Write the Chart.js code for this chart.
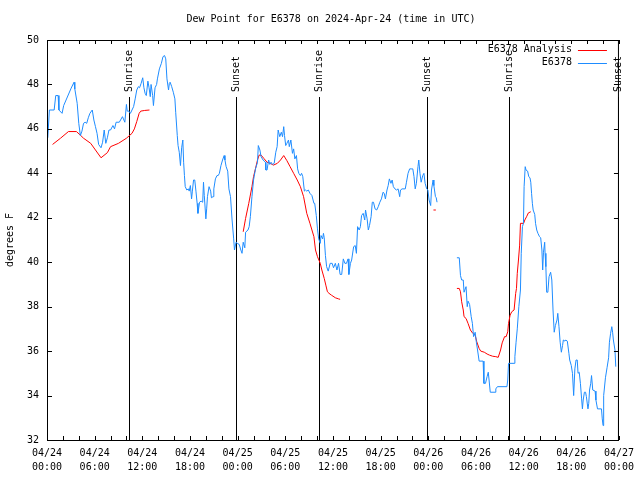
<!DOCTYPE html>
<html><head><meta charset="utf-8">
<script src="https://cdn.jsdelivr.net/npm/chart.js@4/dist/chart.umd.min.js"></script>
<style>html,body{margin:0;padding:0;background:#fff;}canvas{display:block;}</style>
</head><body>
<canvas id="c" width="640" height="480"></canvas>
<script>
// hours since 2024-04-24 00:00 UTC
const blueHours = [0.1,0.3,0.9,1.1,1.4,1.5,1.9,2.1,2.4,3.0,3.4,3.5,3.8,4.0,4.2,4.4,4.6,4.8,5.0,5.2,5.4,5.7,5.9,6.1,6.3,6.5,6.8,7.0,7.2,7.4,7.6,7.8,8.0,8.3,8.5,8.7,9.1,9.5,9.8,10.0,10.1,10.3,10.5,10.7,10.9,11.1,11.3,11.5,11.65,11.85,12.05,12.2,12.35,12.5,12.7,12.85,13.0,13.1,13.3,13.4,13.6,13.8,13.9,14.15,14.4,14.6,14.8,14.95,15.1,15.3,15.4,15.5,15.7,15.9,16.1,16.2,16.4,16.5,16.65,16.8,16.95,17.1,17.2,17.3,17.4,17.6,17.8,17.9,18.05,18.2,18.3,18.45,18.6,18.75,18.9,19.0,19.2,19.4,19.6,19.7,19.8,20.0,20.1,20.2,20.4,20.6,20.7,20.9,21.0,21.2,21.4,21.55,21.7,21.9,22.1,22.3,22.4,22.55,22.75,22.9,23.1,23.3,23.5,23.6,23.8,23.95,24.2,24.4,24.55,24.7,24.9,25.0,25.3,25.45,25.6,25.8,26.0,26.25,26.5,26.6,26.8,26.95,27.2,27.5,27.55,27.7,27.9,28.05,28.2,28.4,28.6,28.8,28.97,29.1,29.3,29.5,29.65,29.8,29.9,30.05,30.2,30.4,30.5,30.7,30.9,31.05,31.2,31.4,31.55,31.7,31.9,32.05,32.2,32.4,32.55,32.7,32.9,33.1,33.35,33.6,33.7,33.9,34.05,34.2,34.4,34.5,34.7,34.8,34.9,35.05,35.2,35.4,35.65,35.9,36.07,36.3,36.5,36.7,36.9,37.1,37.3,37.5,37.7,37.9,38.0,38.2,38.35,38.6,38.8,38.95,39.1,39.3,39.45,39.6,39.8,40.0,40.1,40.3,40.45,40.6,40.8,40.95,41.1,41.3,41.5,41.7,41.9,42.1,42.3,42.45,42.6,42.8,42.95,43.1,43.3,43.45,43.6,43.8,44.0,44.2,44.4,44.5,44.7,44.95,45.1,45.25,45.45,45.65,45.85,46.05,46.2,46.35,46.5,46.7,46.8,46.95,47.1,47.3,47.45,47.6,47.8,47.95,48.1,48.3,48.4,48.6,48.7,48.9,49.0,49.1,50.3,51.6,51.9,52.05,52.2,52.4,52.5,52.75,52.9,53.0,53.2,53.4,53.55,53.7,53.9,54.05,54.2,54.4,54.9,55.0,55.2,55.4,55.55,55.65,55.8,56.4,56.5,56.7,57.9,58.0,58.1,58.8,58.9,59.05,59.2,59.4,59.6,59.7,59.85,59.98,60.06,60.2,60.3,60.5,60.65,60.8,60.9,61.0,61.1,61.2,61.4,61.5,61.65,61.8,62.0,62.15,62.3,62.4,62.5,62.65,62.7,62.8,62.9,63.05,63.2,63.4,63.55,63.7,63.85,64.0,64.2,64.3,64.45,64.6,64.75,64.9,65.0,65.2,65.3,65.5,65.7,65.8,66.0,66.15,66.3,66.45,66.6,66.75,66.85,67.0,67.15,67.3,67.4,67.5,67.65,67.8,67.9,68.1,68.2,68.3,68.45,68.55,68.7,69.0,69.1,69.3,69.8,69.9,70.0,70.05,70.1,70.3,70.5,70.7,70.8,70.95,71.1,71.2,71.3,71.5,71.6];
const blueDew = [45.6,46.85,46.85,47.5,47.5,46.85,46.7,47.05,47.3,47.8,48.1,47.8,47.15,46.25,45.7,45.9,46.25,46.3,46.25,46.5,46.7,46.85,46.4,46.1,45.8,45.3,45.15,45.4,45.95,45.35,45.6,45.95,45.95,46.15,46.0,46.3,46.3,46.55,46.3,47.1,46.8,46.8,46.7,46.85,47.0,47.35,47.75,47.9,47.85,48.05,48.3,47.85,47.6,47.5,48.15,47.85,47.45,48.0,47.5,47.05,47.85,48.0,48.25,48.7,48.95,49.25,49.3,49.15,48.25,47.75,48.05,48.1,47.9,47.65,47.35,46.75,45.7,45.25,44.95,44.35,45.15,45.5,44.5,43.9,43.4,43.25,43.3,43.2,43.45,42.85,43.2,43.7,43.7,43.2,42.65,42.2,42.7,42.75,42.7,43.6,43.0,41.95,42.4,42.95,43.4,43.2,42.9,42.95,43.3,43.75,43.9,43.9,44.0,44.35,44.6,44.8,44.6,44.3,44.1,43.3,42.95,41.9,41.05,40.55,40.9,40.85,40.8,40.55,40.4,40.9,40.65,41.35,41.45,41.6,42.05,42.95,43.7,44.2,44.5,45.25,45.05,44.75,44.6,44.5,44.15,44.15,44.6,44.4,44.5,44.4,44.45,44.95,45.2,45.95,45.65,45.85,45.65,46.1,45.7,45.25,45.35,45.5,45.2,45.5,44.9,45.1,44.65,44.8,44.2,44.0,43.9,44.0,43.85,43.2,43.25,43.2,43.25,43.1,43.0,42.65,42.65,42.1,41.5,41.05,40.85,41.2,41.05,41.3,41.1,40.3,39.8,39.6,39.95,39.95,39.75,39.95,39.65,39.95,39.45,39.45,40.15,39.95,39.95,40.15,39.45,39.95,40.1,40.7,40.75,40.4,41.6,41.45,41.6,42.1,42.2,41.9,42.35,41.95,41.45,41.65,42.05,42.7,42.7,42.4,42.35,42.5,42.7,42.85,43.15,43.1,42.85,43.25,43.45,43.75,43.55,43.7,43.4,43.3,43.25,43.3,42.95,43.25,43.3,43.3,43.3,43.6,44.0,44.2,44.2,44.2,43.85,43.3,43.55,44.3,44.6,44.0,43.6,43.9,44.0,43.55,43.3,43.25,42.8,42.55,43.25,43.7,43.45,42.95,42.9,42.7,null,40.2,40.2,39.4,39.2,39.2,38.65,38.9,38.0,38.25,38.1,37.55,37.25,36.65,36.85,36.4,36.05,35.55,35.55,34.55,34.55,34.85,35.05,34.7,34.15,34.15,34.3,34.4,34.4,34.7,35.45,35.45,35.75,36.4,37.0,38.0,38.75,40.4,41.6,41.75,43.4,44.3,44.15,44.1,43.85,43.8,43.6,43.1,42.65,42.35,42.15,41.75,41.45,41.3,41.15,41.1,40.55,39.65,40.45,40.9,40.4,39.8,38.65,38.65,39.35,39.55,39.2,37.85,36.85,37.15,37.4,37.7,37.1,36.4,35.95,36.25,36.5,36.45,36.5,36.45,35.9,35.6,35.35,35.0,34.0,35.2,35.6,35.6,35.0,35.05,34.55,33.85,33.4,33.8,34.15,34.15,33.95,33.4,33.65,34.25,34.55,34.9,34.25,34.2,33.8,33.4,33.4,32.95,32.65,33.4,34.0,34.8,35.25,35.7,36.4,36.8,37.1,36.85,36.5,36.05,35.3];

const redHours = [0.7,1.7,2.7,3.7,4.2,4.6,5.5,6.1,6.8,7.6,8.0,9.0,10.0,10.7,11.0,11.3,11.6,11.8,12.3,12.9,18.0,24.7,25.0,25.4,25.8,26.0,26.25,26.5,26.7,26.95,27.3,27.7,28.1,28.5,29.0,29.4,29.8,30.2,30.6,31.05,31.5,31.9,32.3,32.7,33.1,33.6,33.8,34.05,34.4,34.6,34.9,35.1,35.3,35.5,35.8,36.3,36.7,36.9,42.0,48.65,48.95,50.3,51.6,51.9,52.05,52.2,52.4,52.5,52.75,53.0,53.3,53.6,53.9,54.1,54.4,54.6,55.05,55.4,55.7,56.1,56.5,56.8,57.1,57.3,57.6,57.8,58.0,58.1,58.3,58.5,58.8,59.0,59.1,59.2,59.35,59.5,59.6,60.0,60.15,60.4,60.6,60.9];
const redDew = [45.3,45.58,45.88,45.88,45.72,45.58,45.35,45.05,44.7,44.93,45.2,45.35,45.58,45.8,46.0,46.33,46.7,46.8,46.83,46.85,null,41.37,41.97,42.65,43.4,43.85,44.22,44.6,44.82,44.82,44.67,44.5,44.45,44.37,44.45,44.6,44.8,44.57,44.3,44.0,43.7,43.4,42.95,42.2,41.75,41.15,40.55,40.25,39.95,39.65,39.27,38.97,38.67,38.6,38.52,38.4,38.35,38.33,null,42.35,42.35,null,38.82,38.82,38.67,38.22,37.85,37.55,37.47,37.25,36.95,36.8,36.72,36.42,36.12,36.0,35.95,35.87,35.82,35.77,35.75,35.72,36.05,36.37,36.65,36.65,36.87,37.25,37.62,37.77,37.85,38.6,38.82,39.5,40.1,40.77,41.75,41.75,41.9,42.07,42.22,42.27];

const sunHours = [10.27, 23.75, 34.26, 47.78, 58.2, 71.88];
const sunLabels = ['Sunrise','Sunset','Sunrise','Sunset','Sunrise','Sunset'];
const dayLabels = ['04/24','04/24','04/24','04/24','04/25','04/25','04/25','04/25','04/26','04/26','04/26','04/26','04/27'];
const timeLabels = ['00:00','06:00','12:00','18:00','00:00','06:00','12:00','18:00','00:00','06:00','12:00','18:00','00:00'];
const seriesNames = ['E6378 Analysis','E6378'];
const seriesColors = ['#ff0000','#1e8cff'];
const titleText = 'Dew Point for E6378 on 2024-Apr-24 (time in UTC)';

const FONT = "'DejaVu Sans Mono','Liberation Mono',monospace";
const toPts = (hs, vs) => hs.map((h, i) => ({x: h, y: vs[i]}));

const decor = {
  id: 'decor',
  beforeDatasetsDraw(chart) {
    const {ctx, chartArea: a, scales: {x}} = chart;
    ctx.save();
    ctx.strokeStyle = '#000'; ctx.lineWidth = 1; ctx.fillStyle = '#000';
    ctx.font = '10px ' + FONT;
    sunHours.forEach((h, i) => {
      const px = Math.round(x.getPixelForValue(h)) + 0.5;
      ctx.beginPath(); ctx.moveTo(px, a.top + 57); ctx.lineTo(px, a.bottom); ctx.stroke();
      ctx.save(); ctx.translate(px, a.top + 52); ctx.rotate(-Math.PI / 2);
      ctx.textAlign = 'left'; ctx.textBaseline = 'middle';
      ctx.fillText(sunLabels[i], 0, 0); ctx.restore();
    });
    ctx.restore();
  },
  afterDraw(chart) {
    const {ctx, chartArea: a, scales: {x, y}} = chart;
    ctx.save();
    // title centred over the plot area
    ctx.font = '10px ' + FONT; ctx.fillStyle = '#000';
    ctx.textAlign = 'center'; ctx.textBaseline = 'middle';
    ctx.fillText(titleText, (a.left + a.right) / 2 - 2, 19);
    ctx.strokeStyle = '#000'; ctx.lineWidth = 1;
    ctx.strokeRect(a.left + 0.5, a.top + 0.5, a.right - a.left - 1, a.bottom - a.top);
    ctx.beginPath();
    x.ticks.forEach(t => {
      const px = Math.round(x.getPixelForValue(t.value)) + 0.5;
      ctx.moveTo(px, a.bottom); ctx.lineTo(px, a.bottom - 4);
      ctx.moveTo(px, a.top); ctx.lineTo(px, a.top + 4);
    });
    y.ticks.forEach(t => {
      const py = Math.round(y.getPixelForValue(t.value)) + 0.5;
      ctx.moveTo(a.left, py); ctx.lineTo(a.left + 5, py);
      ctx.moveTo(a.right, py); ctx.lineTo(a.right - 5, py);
    });
    ctx.stroke();
    // legend
    ctx.textAlign = 'right'; ctx.textBaseline = 'middle';
    seriesNames.forEach((n, i) => {
      const ly = a.top + 9.5 + i * 13;
      ctx.fillText(n, a.right - 47, ly);
      ctx.strokeStyle = seriesColors[i];
      ctx.beginPath(); ctx.moveTo(a.right - 41, Math.round(ly) + 0.5); ctx.lineTo(a.right - 12, Math.round(ly) + 0.5); ctx.stroke();
    });
    ctx.restore();
  }
};

Chart.defaults.color = '#000';
Chart.defaults.font.family = FONT;
Chart.defaults.font.size = 10;

new Chart(document.getElementById('c'), {
  type: 'line',
  data: {
    datasets: [
      {label: seriesNames[1], data: toPts(blueHours, blueDew), borderColor: seriesColors[1], borderWidth: 1, pointRadius: 0, tension: 0, spanGaps: false, order: 0},
      {label: seriesNames[0], data: toPts(redHours, redDew), borderColor: seriesColors[0], borderWidth: 1, pointRadius: 0, tension: 0, spanGaps: false, order: 1}
    ]
  },
  options: {
    responsive: false, animation: false, devicePixelRatio: 1,
    layout: {padding: {left: 0, right: 18, top: 40, bottom: 0}},
    plugins: {legend: {display: false}, tooltip: {enabled: false}, title: {display: false}},
    scales: {
      x: {
        type: 'linear', min: 0, max: 72,
        grid: {display: false, drawTicks: false}, border: {display: false},
        ticks: {stepSize: 2, autoSkip: false, maxRotation: 0, minRotation: 0, padding: 6,
          font: {family: FONT, size: 10, lineHeight: 1.4}, color: '#000',
          callback: v => (v % 6 === 0) ? [dayLabels[v / 6], timeLabels[v / 6]] : ''},
        afterFit: s => { s.height = 40; }
      },
      y: {
        min: 32, max: 50,
        grid: {display: false, drawTicks: false}, border: {display: false},
        ticks: {stepSize: 2, padding: 8, color: '#000', font: {family: FONT, size: 10}},
        title: {display: true, text: 'degrees F', color: '#000', font: {family: FONT, size: 10}, padding: {top: 4, bottom: 0}},
        afterFit: s => { s.width = 47; }
      }
    }
  },
  plugins: [decor]
});
</script>
</body></html>
